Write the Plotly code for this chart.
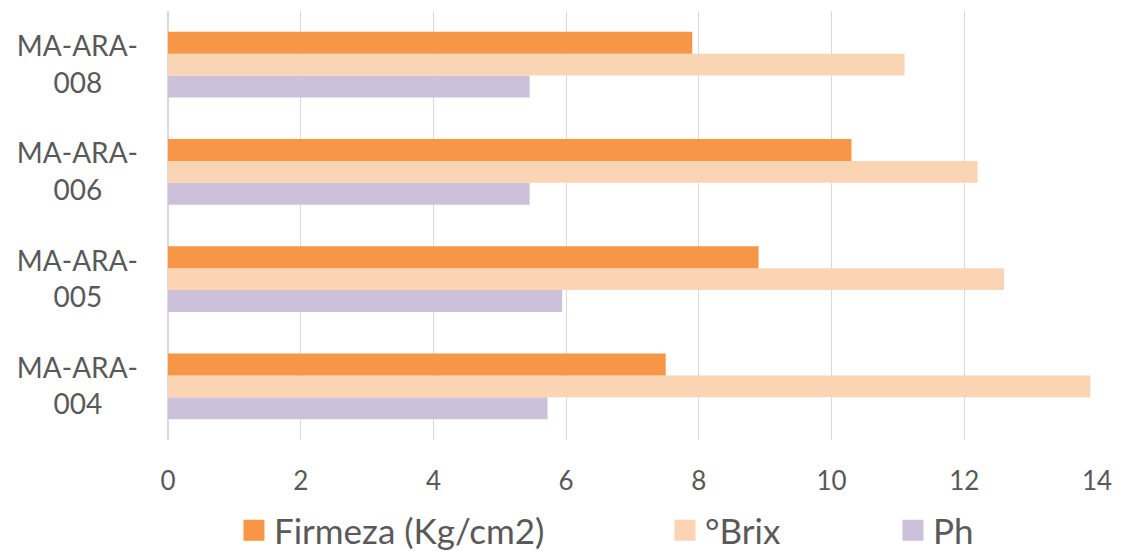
import plotly.graph_objects as go

categories = ["MA-ARA-004", "MA-ARA-005", "MA-ARA-006", "MA-ARA-008"]
firmeza = [7.5, 8.9, 10.3, 7.9]
brix = [13.9, 12.6, 12.2, 11.1]
ph = [5.72, 5.94, 5.45, 5.45]

series_names = ["Firmeza (Kg/cm2)", "°Brix", "Ph"]
series_colors = ["#F79646", "#FBD4B4", "#CCC0DA"]

tick_text = ["MA-ARA-<br>" + c.split("-")[-1] + "&nbsp;" * 5 for c in categories]

FONT = "Lato"
GREY = "#595959"

fig = go.Figure()
# bars: first trace is drawn lowest within each group
for vals, name, col in [(ph, series_names[2], series_colors[2]),
                        (brix, series_names[1], series_colors[1]),
                        (firmeza, series_names[0], series_colors[0])]:
    fig.add_trace(go.Bar(y=categories, x=vals, orientation="h", name=name,
                         showlegend=False,
                         marker=dict(color=col, line=dict(width=0))))

# legend-only entries (large square swatches)
legend_ids = ["legend", "legend2", "legend3"]
for name, col, lid in zip(series_names, series_colors, legend_ids):
    fig.add_trace(go.Scatter(x=[None], y=[None], mode="markers", name=name,
                             legend=lid, showlegend=True, hoverinfo="skip",
                             marker=dict(symbol="square", size=16, color=col,
                                         line=dict(width=5, color=col))))

leg_common = dict(orientation="h", xanchor="left", yanchor="middle", y=-0.211,
                  font=dict(size=35, color=GREY), itemsizing="trace",
                  itemwidth=30, bgcolor="rgba(0,0,0,0)", borderwidth=0)

fig.update_layout(
    width=1116, height=543,
    margin=dict(l=160, r=27, t=3, b=111, autoexpand=False),
    paper_bgcolor="white", plot_bgcolor="white",
    barmode="group", bargap=0.386, bargroupgap=0,
    font=dict(family=FONT, color=GREY),
    showlegend=True,
    legend=dict(x=0.0710, **leg_common),
    legend2=dict(x=0.535, **leg_common),
    legend3=dict(x=0.7804, **leg_common),
    xaxis=dict(range=[0, 14], dtick=2, showgrid=True, gridcolor="#D9D9D9",
               gridwidth=1, zeroline=True, zerolinecolor="#D9D9D9",
               showline=False, ticks="", ticklabelstandoff=23, automargin=False,
               tickfont=dict(size=26, color=GREY)),
    yaxis=dict(categoryorder="array", categoryarray=categories,
               tickmode="array", tickvals=categories, ticktext=tick_text,
               range=[-0.5, 3.5], showgrid=False, zeroline=False, showline=False,
               ticks="", ticklabelstandoff=29, automargin=False,
               tickfont=dict(size=28, color=GREY)),
)

fig.write_html("out.html")
